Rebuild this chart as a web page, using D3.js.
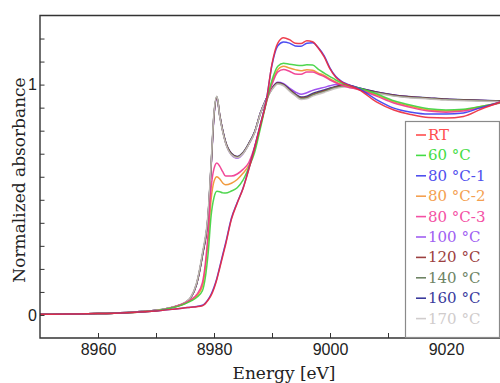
<!DOCTYPE html>
<html><head><meta charset="utf-8">
<script src="https://cdn.jsdelivr.net/npm/d3@7"></script>
<style>
html,body{margin:0;padding:0;background:#fff;}
svg{display:block;}
</style></head>
<body><svg id="chart" width="500" height="383"></svg>
<script>
const energy = [8950, 8955, 8960, 8965, 8970, 8973, 8975, 8976, 8977, 8978, 8979, 8979.5, 8980, 8980.5, 8981, 8981.5, 8982, 8983, 8984, 8985, 8986, 8987, 8988, 8989, 8990, 8991, 8992, 8993, 8994, 8995, 8996, 8997, 8998, 8999, 9000, 9001, 9002, 9003, 9005, 9008, 9011, 9014, 9017, 9020, 9023, 9026, 9030];

const seriesNames = ["RT", "60 °C", "80 °C-1", "80 °C-2", "80 °C-3", "100 °C", "120 °C", "140 °C", "160 °C", "170 °C"];
const lineColors  = ["#ec2a3c", "#3cd23c", "#3a3af0", "#f0902a", "#f0348c", "#9640ee", "#8c2c2c", "#6e8a5c", "#2c2c8c", "#c6bebe"];
const legendColors = ["#ff4e4e", "#44dc44", "#5050ee", "#f4a050", "#f450a4", "#a060f2", "#9c4040", "#6e8464", "#3a3a9c", "#d0cccc"];

const vRT = [0.003, 0.004, 0.006, 0.010, 0.017, 0.025, 0.031, 0.034, 0.036, 0.040, 0.065, 0.085, 0.115, 0.155, 0.205, 0.255, 0.305, 0.415, 0.485, 0.548, 0.632, 0.725, 0.825, 0.925, 1.090, 1.180, 1.203, 1.195, 1.180, 1.178, 1.190, 1.186, 1.158, 1.120, 1.068, 1.032, 1.012, 1.000, 0.978, 0.925, 0.890, 0.870, 0.857, 0.855, 0.862, 0.893, 0.930];
const v60 = [0.003, 0.004, 0.006, 0.010, 0.018, 0.032, 0.048, 0.060, 0.076, 0.105, 0.270, 0.430, 0.510, 0.537, 0.535, 0.530, 0.529, 0.538, 0.552, 0.585, 0.640, 0.705, 0.810, 0.920, 1.020, 1.080, 1.093, 1.088, 1.085, 1.083, 1.086, 1.085, 1.066, 1.050, 1.035, 1.020, 1.007, 0.998, 0.985, 0.960, 0.930, 0.910, 0.895, 0.890, 0.893, 0.905, 0.925];
const v80a = [0.003, 0.004, 0.006, 0.010, 0.017, 0.025, 0.031, 0.034, 0.037, 0.042, 0.068, 0.090, 0.120, 0.160, 0.210, 0.262, 0.312, 0.420, 0.488, 0.550, 0.635, 0.728, 0.828, 0.930, 1.085, 1.168, 1.185, 1.180, 1.168, 1.166, 1.180, 1.182, 1.160, 1.125, 1.072, 1.035, 1.014, 1.002, 0.982, 0.935, 0.898, 0.880, 0.872, 0.872, 0.877, 0.900, 0.930];
const v80b = [0.003, 0.004, 0.006, 0.010, 0.018, 0.033, 0.050, 0.063, 0.082, 0.125, 0.330, 0.500, 0.580, 0.600, 0.590, 0.573, 0.565, 0.572, 0.588, 0.615, 0.650, 0.720, 0.820, 0.925, 1.010, 1.065, 1.080, 1.072, 1.065, 1.060, 1.065, 1.062, 1.050, 1.040, 1.025, 1.012, 1.000, 0.993, 0.980, 0.955, 0.925, 0.905, 0.890, 0.885, 0.890, 0.905, 0.925];
const v80c = [0.003, 0.004, 0.006, 0.010, 0.018, 0.034, 0.052, 0.066, 0.088, 0.140, 0.360, 0.550, 0.635, 0.660, 0.645, 0.622, 0.603, 0.603, 0.612, 0.632, 0.662, 0.730, 0.825, 0.920, 1.000, 1.055, 1.066, 1.058, 1.046, 1.045, 1.055, 1.055, 1.045, 1.035, 1.020, 1.008, 0.998, 0.990, 0.978, 0.950, 0.920, 0.900, 0.885, 0.880, 0.885, 0.900, 0.925];
const v100 = [0.003, 0.004, 0.006, 0.011, 0.020, 0.035, 0.053, 0.074, 0.132, 0.255, 0.430, 0.640, 0.862, 0.940, 0.862, 0.800, 0.748, 0.695, 0.680, 0.700, 0.742, 0.793, 0.878, 0.938, 0.985, 1.010, 1.004, 0.985, 0.968, 0.958, 0.965, 0.975, 0.982, 0.988, 0.995, 1.000, 1.000, 0.998, 0.985, 0.968, 0.955, 0.946, 0.941, 0.936, 0.933, 0.931, 0.929];
const v120 = [0.003, 0.004, 0.006, 0.011, 0.020, 0.035, 0.053, 0.075, 0.134, 0.258, 0.435, 0.645, 0.868, 0.945, 0.865, 0.800, 0.750, 0.700, 0.686, 0.703, 0.743, 0.793, 0.876, 0.936, 0.982, 1.007, 1.000, 0.978, 0.958, 0.943, 0.945, 0.957, 0.966, 0.973, 0.982, 0.990, 0.995, 0.996, 0.983, 0.967, 0.954, 0.946, 0.941, 0.936, 0.933, 0.931, 0.928];
const v140 = [0.003, 0.004, 0.006, 0.011, 0.020, 0.035, 0.054, 0.076, 0.136, 0.262, 0.440, 0.650, 0.872, 0.948, 0.862, 0.798, 0.748, 0.698, 0.685, 0.702, 0.742, 0.792, 0.875, 0.935, 0.980, 1.005, 0.998, 0.975, 0.955, 0.940, 0.942, 0.955, 0.963, 0.970, 0.980, 0.987, 0.992, 0.993, 0.980, 0.965, 0.952, 0.944, 0.940, 0.935, 0.932, 0.930, 0.927];
const v160 = [0.003, 0.004, 0.006, 0.011, 0.020, 0.035, 0.053, 0.075, 0.135, 0.260, 0.438, 0.648, 0.870, 0.946, 0.866, 0.802, 0.752, 0.702, 0.688, 0.705, 0.745, 0.795, 0.877, 0.937, 0.983, 1.008, 1.001, 0.980, 0.960, 0.946, 0.950, 0.962, 0.970, 0.977, 0.985, 0.992, 0.997, 0.998, 0.985, 0.968, 0.955, 0.947, 0.942, 0.937, 0.934, 0.932, 0.929];
const v170 = [0.003, 0.004, 0.006, 0.011, 0.020, 0.036, 0.055, 0.078, 0.140, 0.270, 0.450, 0.660, 0.880, 0.950, 0.860, 0.795, 0.745, 0.695, 0.683, 0.700, 0.740, 0.790, 0.875, 0.935, 0.978, 1.003, 0.995, 0.972, 0.952, 0.935, 0.938, 0.950, 0.958, 0.966, 0.975, 0.983, 0.988, 0.990, 0.978, 0.962, 0.950, 0.942, 0.938, 0.933, 0.930, 0.928, 0.925];

const seriesValues = [vRT, v60, v80a, v80b, v80c, v100, v120, v140, v160, v170];
// drawing order (indices), last is on top
const drawOrder = [5, 8, 6, 7, 9, 3, 4, 1, 2, 0];

const xTicksMajor = [8960, 8980, 9000, 9020];
const xTicksMinor = [8970, 8990, 9010];
const yTicks = [0, 0.1, 0.2, 0.3, 0.4, 0.5, 0.6, 0.7, 0.8, 0.9, 1.0, 1.1, 1.2];
const yTickLabels = {0: "0", 1: "1"};

const svg = d3.select("#chart");
const L = 40, T = 15.5, B = 338, R = 504;
const x = d3.scaleLinear().domain([8950, 9030]).range([L, R]);
const y = d3.scaleLinear().domain([-0.1, 1.3]).range([B, T]);

svg.append("defs").append("clipPath").attr("id", "clip")
  .append("rect").attr("x", L).attr("y", T).attr("width", R - L).attr("height", B - T);

const line = d3.line().x(d => x(d[0])).y(d => y(d[1])).curve(d3.curveMonotoneX);
const gLines = svg.append("g").attr("clip-path", "url(#clip)");
drawOrder.forEach(i => {
  const pts = energy.map((e, k) => [e, seriesValues[i][k]]);
  gLines.append("path").attr("d", line(pts)).attr("fill", "none")
    .attr("stroke", lineColors[i]).attr("stroke-width", 1.5)
    .attr("stroke-linejoin", "round").attr("opacity", 0.9);
});

// axes
const xAxis = d3.axisBottom(x).tickValues(xTicksMajor).tickFormat(d3.format("d"))
  .tickSizeInner(-5).tickSizeOuter(0).tickPadding(6);
const gx = svg.append("g").attr("transform", `translate(0,${B})`).call(xAxis);
const xAxisMinor = d3.axisBottom(x).tickValues(xTicksMinor).tickFormat("")
  .tickSizeInner(-5).tickSizeOuter(0);
const gxm = svg.append("g").attr("transform", `translate(0,${B})`).call(xAxisMinor);
const yAxis = d3.axisLeft(y).tickValues(yTicks).tickFormat(d => yTickLabels[Math.round(d * 10) / 10] || "")
  .tickSizeInner(-4.5).tickSizeOuter(0).tickPadding(3);
const gy = svg.append("g").attr("transform", `translate(${L},0)`).call(yAxis);
[gx, gxm, gy].forEach(g => {
  g.select(".domain").remove();
  g.selectAll(".tick line").attr("stroke", "#333").attr("stroke-width", 1);
  g.selectAll("text").attr("font-family", "'Liberation Sans', Arial, sans-serif")
    .attr("font-size", 16).attr("fill", "#222");
});

// frame
svg.append("path").attr("d", `M${R},${T}H${L}V${B}H${R}`).attr("fill", "none")
  .attr("stroke", "#333").attr("stroke-width", 1.4);

// axis titles
svg.append("text").attr("transform", "translate(25,180) rotate(-90)")
  .attr("text-anchor", "middle").attr("font-family", "'DejaVu Serif', serif")
  .attr("font-size", 17).attr("fill", "#222").text("Normalized absorbance");
svg.append("text").attr("x", 284).attr("y", 379)
  .attr("text-anchor", "middle").attr("font-family", "'DejaVu Serif', serif")
  .attr("font-size", 17).attr("fill", "#222").text("Energy [eV]");

// legend
const lg = svg.append("g");
lg.append("rect").attr("x", 405.5).attr("y", 121.5).attr("width", 94).attr("height", 216)
  .attr("fill", "#fff").attr("stroke", "#8a8a8a").attr("stroke-width", 1.2);
seriesNames.forEach((name, i) => {
  const cy = 135 + i * 20.4;
  lg.append("line").attr("x1", 416).attr("x2", 426).attr("y1", cy).attr("y2", cy)
    .attr("stroke", legendColors[i]).attr("stroke-width", 1.6);
  lg.append("text").attr("x", 428).attr("y", cy + 5)
    .attr("font-family", "'DejaVu Serif', serif").attr("font-size", 15)
    .attr("fill", legendColors[i]).text(name);
});
</script></body></html>
